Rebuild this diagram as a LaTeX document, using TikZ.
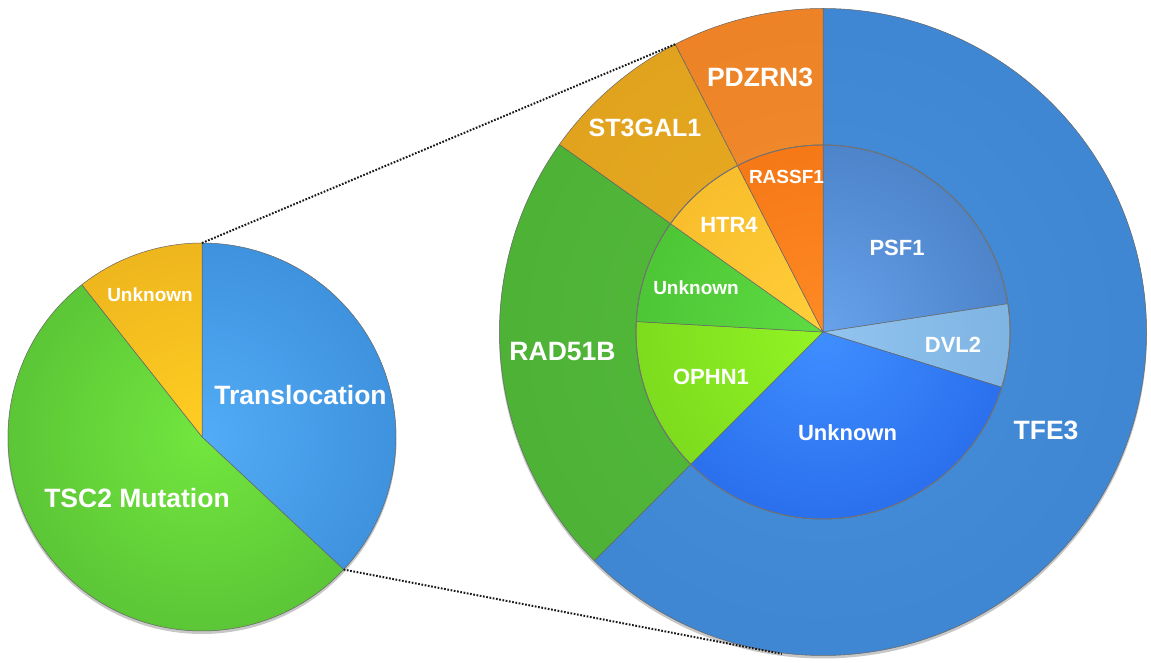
\documentclass[tikz,border=0pt]{standalone}
\usepackage{fontspec}
\setmainfont{Liberation Sans}
\usetikzlibrary{calc}

% slice colours (light centre, dark rim)
\definecolor{tlA}{HTML}{52ACF6}\definecolor{tlB}{HTML}{2C78C6}
\definecolor{tsA}{HTML}{72E63E}\definecolor{tsB}{HTML}{45A62F}
\definecolor{ukA}{HTML}{FFCE22}\definecolor{ukB}{HTML}{DE9E19}
\definecolor{tfA}{HTML}{468FDB}\definecolor{tfB}{HTML}{387ECA}
\definecolor{raA}{HTML}{55BD3C}\definecolor{raB}{HTML}{45A630}
\definecolor{stA}{HTML}{E9AC22}\definecolor{stB}{HTML}{D99A19}
\definecolor{pdA}{HTML}{F39030}\definecolor{pdB}{HTML}{E6741D}
\definecolor{psA}{HTML}{67A2EA}\definecolor{psB}{HTML}{3366AA}
\definecolor{dvA}{HTML}{92C4EE}\definecolor{dvB}{HTML}{6BA4D8}
\definecolor{ubA}{HTML}{3F8EFF}\definecolor{ubB}{HTML}{1652DC}
\definecolor{opA}{HTML}{92F424}\definecolor{opB}{HTML}{68C418}
\definecolor{ugA}{HTML}{5EDC42}\definecolor{ugB}{HTML}{3DB02A}
\definecolor{htA}{HTML}{FFCF3A}\definecolor{htB}{HTML}{F3AC1E}
\definecolor{rsA}{HTML}{FF8A24}\definecolor{rsB}{HTML}{EC660A}

% #1 centre, #2 inner r, #3 outer r, #4 start angle, #5 end angle, #6 light, #7 dark
\newcommand\myslice[7]{%
  \begin{scope}
    \clip[shift={(#1)}] (#4:#2) -- (#4:#3) arc[start angle=#4, end angle=#5, radius=#3]
       -- (#5:#2) arc[start angle=#5, end angle=#4, radius=#2] -- cycle;
    \shade[inner color=#6, outer color=#7] (#1) circle[radius=2*#3];
  \end{scope}
  \draw[sliceedge, shift={(#1)}] (#4:#2) -- (#4:#3) arc[start angle=#4, end angle=#5, radius=#3]
       -- (#5:#2) arc[start angle=#5, end angle=#4, radius=#2] -- cycle;
}

\tikzset{
  sliceedge/.style={draw=black!60, line width=0.5pt, line join=round},
  lbl/.style={text=white, font=\bfseries, inner sep=0pt},
  lblbig/.style={lbl, font=\fontsize{26.5}{26.5}\selectfont\bfseries},
  lblmid/.style={lbl, font=\fontsize{22}{22}\selectfont\bfseries},
  lblsmall/.style={lbl, font=\fontsize{19}{19}\selectfont\bfseries},
  zoomline/.style={draw=black!90, line width=2pt, dash pattern=on 1.7pt off 1.6pt},
  dropshadow/.style={fill=black, opacity=0.22}
}

\begin{document}
\begin{tikzpicture}[x=1pt, y=1pt]
\useasboundingbox (0,0) rectangle (1151,663);
\fill[white] (0,0) rectangle (1151,663);

\coordinate (L) at (202,226);
\coordinate (B) at (823,331);
\coordinate (lpTop) at ($(L)+(90:194)$);
\coordinate (lpLow) at ($(L)+(-43.1:194)$);
\coordinate (bpUp)  at ($(B)+(117.2:323.5)$);
\coordinate (bpLow) at ($(B)+(-97.3:324.5)$);

% soft shadows
\fill[dropshadow] ($(L)+(0,-2.5)$) circle[radius=194.5];
\fill[dropshadow] ($(B)+(0,-2.5)$) circle[radius=324];

% left pie
\myslice{L}{0.01}{194}{-43.1}{90}{tlA}{tlB}
\myslice{L}{0.01}{194}{90}{128.3}{ukA}{ukB}
\myslice{L}{0.01}{194}{128.3}{316.9}{tsA}{tsB}

% big donut, outer ring
\myslice{B}{187}{323.5}{-135}{90}{tfA}{tfB}
\myslice{B}{187}{323.5}{90}{117.2}{pdA}{pdB}
\myslice{B}{187}{323.5}{117.2}{144.6}{stA}{stB}
\myslice{B}{187}{323.5}{144.6}{225}{raA}{raB}

% big donut, inner pie
\myslice{B}{0.01}{187}{8.7}{90}{psA}{psB}
\myslice{B}{0.01}{187}{-17.2}{8.7}{dvA}{dvB}
\myslice{B}{0.01}{187}{-135}{-17.2}{ubA}{ubB}
\myslice{B}{0.01}{187}{176.8}{225}{opA}{opB}
\myslice{B}{0.01}{187}{144.6}{176.8}{ugA}{ugB}
\myslice{B}{0.01}{187}{117.2}{144.6}{htA}{htB}
\myslice{B}{0.01}{187}{90}{117.2}{rsA}{rsB}
\draw[black!55, line width=0.9pt] (B) circle[radius=187];

% zoom connectors
\draw[zoomline] (lpTop) -- (bpUp);
\draw[zoomline] (lpLow) -- (bpLow);

% labels, left pie
\node[lblbig]   (tTrans) at (300.5,268) {Translocation};
\node[lblbig]   (tTsc)   at (137,165)   {TSC2 Mutation};
\node[lblsmall] (tUnkL)  at (150,368)   {Unknown};

% labels, outer ring
\node[lblbig] (tPdz)  at (760,586)   {PDZRN3};
\node[font=\fontsize{25}{25}\selectfont\bfseries, text=white, inner sep=0pt] (tSt3) at (645,535) {ST3GAL1};
\node[lblbig] (tRad)  at (562.5,311) {RAD51B};
\node[lblbig] (tTfe)  at (1046,233)  {TFE3};

% labels, inner pie
\node[lblsmall] (tRas)  at (786.5,486) {RASSF1};
\node[lblmid]   (tHtr)  at (729,438)   {HTR4};
\node[lblsmall] (tUnkG) at (696,375)   {Unknown};
\node[lblmid]   (tPsf)  at (897,415)   {PSF1};
\node[lblmid]   (tDvl)  at (953,318)   {DVL2};
\node[lblmid]   (tOph)  at (711,286)   {OPHN1};
\node[lblmid]   (tUnkB) at (847.5,230) {Unknown};
\end{tikzpicture}
\end{document}
